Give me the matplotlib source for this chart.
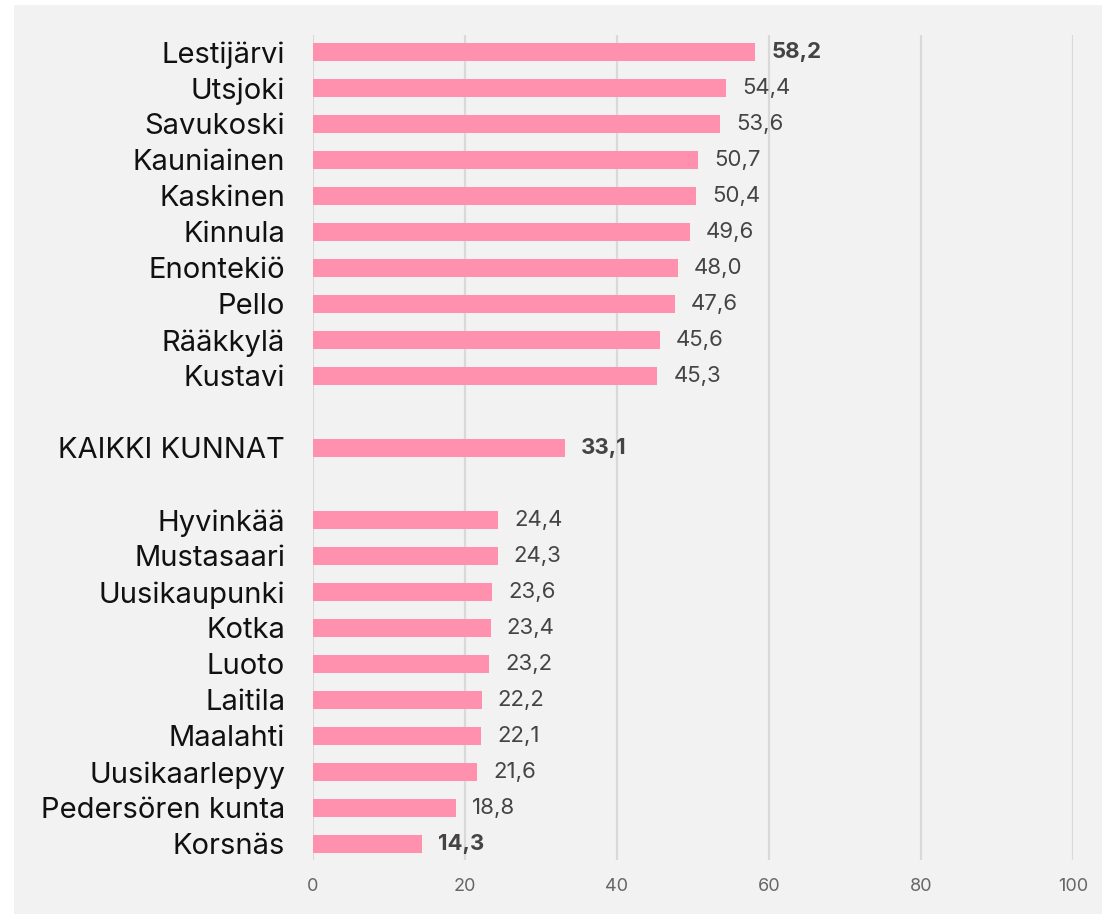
import numpy as np
import matplotlib; matplotlib.use("Agg"); import matplotlib.pyplot as plt
from matplotlib.patches import Rectangle

# municipalities (top to bottom); None marks a blank gap row
names = ["Lestijärvi", "Utsjoki", "Savukoski", "Kauniainen", "Kaskinen", "Kinnula",
         "Enontekiö", "Pello", "Rääkkylä", "Kustavi", None, "KAIKKI KUNNAT", None,
         "Hyvinkää", "Mustasaari", "Uusikaupunki", "Kotka", "Luoto", "Laitila",
         "Maalahti", "Uusikaarlepyy", "Pedersören kunta", "Korsnäs"]
values = [58.2, 54.4, 53.6, 50.7, 50.4, 49.6, 48.0, 47.6, 45.6, 45.3, None, 33.1, None,
          24.4, 24.3, 23.6, 23.4, 23.2, 22.2, 22.1, 21.6, 18.8, 14.3]
bold_labels = {"Lestijärvi", "KAIKKI KUNNAT", "Korsnäs"}
xticks = [0, 20, 40, 60, 80, 100]

BAR = "#ff91ae"
BG = "#f2f2f2"
plt.rcParams["font.family"] = ["Inter", "DejaVu Sans"]

W, H = 1102, 914
fig = plt.figure(figsize=(W / 100, H / 100), dpi=100)
fig.patch.set_facecolor("white")
fig.patches.append(Rectangle((14 / W, 0), 1 - 14 / W, 1 - 5 / H, transform=fig.transFigure,
                             facecolor=BG, edgecolor="none", zorder=-10))

ax = fig.add_axes([313 / W, 1 - 860 / H, (1073 - 313) / W, (860 - 35) / H])
ax.set_facecolor(BG)
for s in ax.spines.values():
    s.set_visible(False)

for i, (n, v) in enumerate(zip(names, values)):
    if v is None:
        continue
    ax.barh(i, v, height=0.5, color=BAR, zorder=3)
    ax.annotate(f"{v:.1f}".replace(".", ","), (v, i), xytext=(16, 0), textcoords="offset pixels",
                va="center", ha="left", fontsize=16, color="#444444",
                fontweight="bold" if n in bold_labels else "normal")

ax.set_xlim(0, 100)
ax.set_ylim(22.45, -0.47)
ax.set_xticks(xticks)
ax.set_xticklabels([str(t) for t in xticks], fontsize=13, color="#666666")
ax.tick_params(axis="x", length=0, pad=13)
ax.set_yticks([i for i, n in enumerate(names) if n is not None])
ax.set_yticklabels([n for n in names if n is not None], fontsize=21, color="#111111")
ax.tick_params(axis="y", length=0, pad=20)
ax.grid(axis="x", color="#d9d9d9", linewidth=1.6, zorder=0)
ax.set_axisbelow(True)

fig.savefig("out.png", dpi=100, facecolor="white")
